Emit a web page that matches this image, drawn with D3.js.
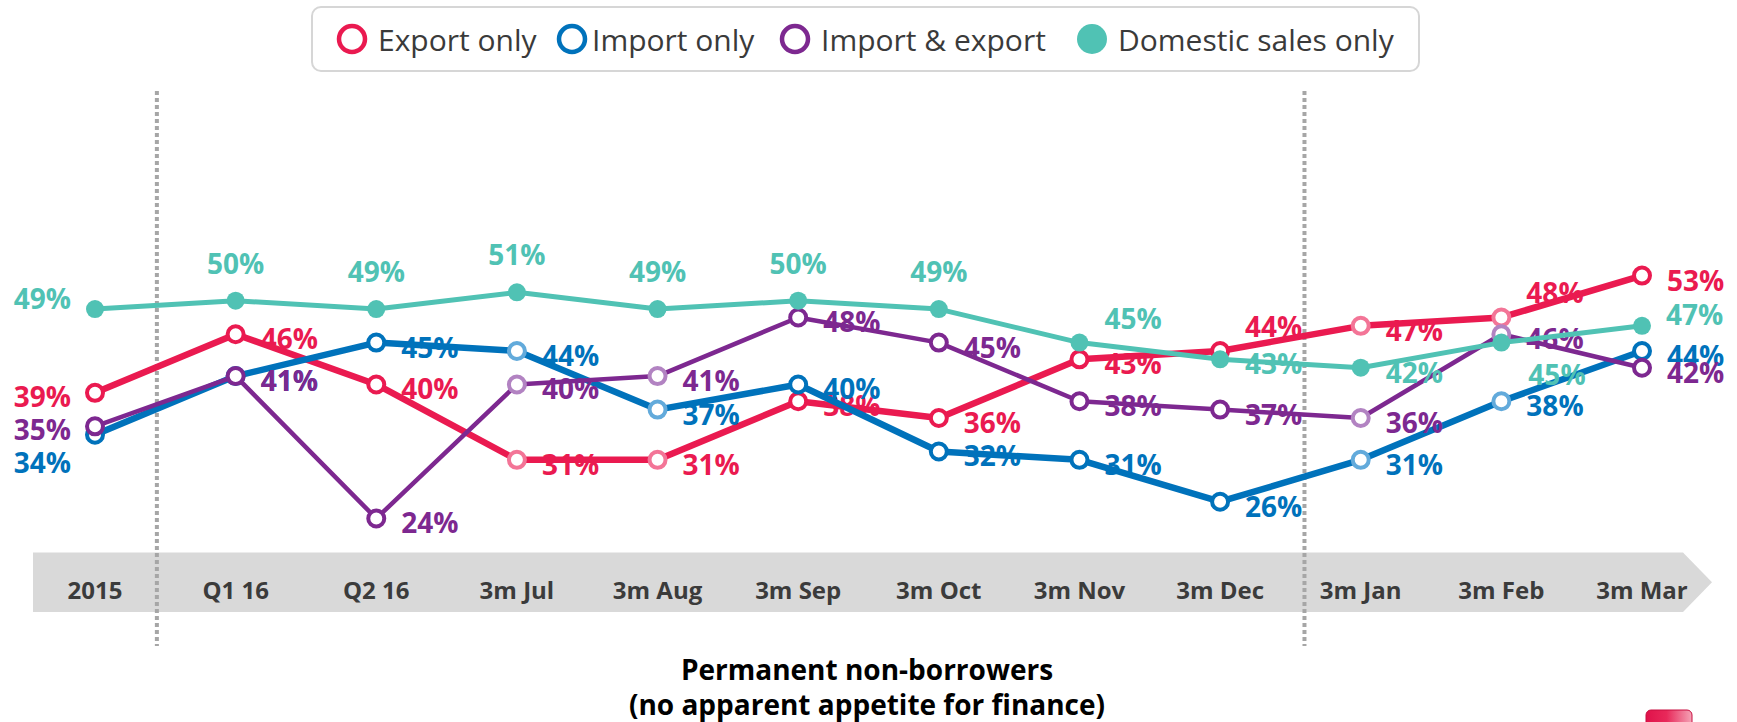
<!DOCTYPE html>
<html>
<head>
<meta charset="utf-8">
<script src="https://cdn.jsdelivr.net/npm/d3@7"></script>
<style>
  html, body { margin: 0; padding: 0; background: #fff; }
  svg { display: block; font-family: "Open Sans", "Noto Sans", sans-serif; }
</style>
</head>
<body>
<svg id="chart" width="1737" height="722"></svg>
<script>
// Permanent non-borrowers by trading type (line chart with % labels)

const categories = ["2015", "Q1 16", "Q2 16", "3m Jul", "3m Aug", "3m Sep", "3m Oct", "3m Nov", "3m Dec", "3m Jan", "3m Feb", "3m Mar"];
const exportOnly   = [39, 46, 40, 31, 31, 38, 36, 43, 44, 47, 48, 53];
const importOnly   = [34, 41, 45, 44, 37, 40, 32, 31, 26, 31, 38, 44];
const importExport = [35, 41, 24, 40, 41, 48, 45, 38, 37, 36, 46, 42];
const domesticOnly = [49, 50, 49, 51, 49, 50, 49, 45, 43, 42, 45, 47];
const seriesNames  = ["Export only", "Import only", "Import & export", "Domestic sales only"];
const fadedPeriods = ["3m Jul", "3m Aug", "3m Jan", "3m Feb"];
const titleLines   = ["Permanent non-borrowers", "(no apparent appetite for finance)"];

// label placement codes per point (style only)
const exportLabelPos   = ["l", "r", "r", "r", "r", "r", "r", "r", "tr", "r", "tr", "r"];
const importLabelPos   = ["lb", "r", "r", "r", "r", "r", "r", "r", "r", "r", "r", "r"];
const bothLabelPos     = ["l", "r", "r", "r", "r", "r", "r", "r", "r", "r", "r", "r"];
const domesticLabelPos = ["lt", "t", "t", "t", "t", "t", "t", "tr", "r", "r", "br", "ru"];

const offsets = {
  r:  [25, 4, "start"],
  l:  [-24, 3, "end"],
  lb: [-24, 27, "end"],
  lt: [-24, -11, "end"],
  t:  [0, -38, "middle"],
  tr: [25, -25, "start"],
  br: [27, 31, "start"],
  ru: [24, -12, "start"]
};

const series = [
  {name: seriesNames[0], values: exportOnly,   pos: exportLabelPos,   color: "#EA1A50", light: "#F37597", width: 6.5, hollow: true},
  {name: seriesNames[1], values: importOnly,   pos: importLabelPos,   color: "#0072BB", light: "#62AADB", width: 6.5, hollow: true},
  {name: seriesNames[2], values: importExport, pos: bothLabelPos,     color: "#7D2890", light: "#B283C2", width: 4.5, hollow: true},
  {name: seriesNames[3], values: domesticOnly, pos: domesticLabelPos, color: "#50C2B4", light: "#50C2B4", width: 5,   hollow: false}
];

const svg = d3.select("#chart");

const x = d3.scalePoint().domain(categories).range([95, 1642]);
const y = d3.scaleLinear().domain([0, 53]).range([719.5, 275.6]);
const step = x.step();

// grey arrow band holding the category labels
const bandTop = 552.5, bandBot = 612;
const bandL = x(categories[0]) - 62, bandR = x(categories[categories.length - 1]) + 41;
svg.append("path")
  .attr("d", `M${bandL},${bandTop} L${bandR},${bandTop} L${bandR + 29},${(bandTop + bandBot) / 2} L${bandR},${bandBot} L${bandL},${bandBot} Z`)
  .attr("fill", "#D9D9D9");

svg.append("g").selectAll("text")
  .data(categories)
  .join("text")
  .attr("x", d => x(d))
  .attr("y", 589)
  .attr("text-anchor", "middle")
  .attr("dominant-baseline", "central")
  .attr("font-size", "24px")
  .attr("font-weight", 700)
  .attr("fill", "#3B3B3B")
  .text(d => d);

// dotted separators
const separators = [x("2015") + step * 0.44, x("3m Dec") + step * 0.6];
svg.append("g").selectAll("line")
  .data(separators)
  .join("line")
  .attr("x1", d => d).attr("x2", d => d)
  .attr("y1", 91).attr("y2", 646)
  .attr("stroke", "#A6A6A6")
  .attr("stroke-width", 4)
  .attr("stroke-dasharray", "4 3");

// series: line, markers, labels (drawn in order)
const line = d3.line().x((d, i) => x(categories[i])).y(d => y(d));

series.forEach(s => {
  const g = svg.append("g");
  g.append("path")
    .attr("d", line(s.values))
    .attr("fill", "none")
    .attr("stroke", s.color)
    .attr("stroke-width", s.width)
    .attr("stroke-linejoin", "round");

  g.selectAll("circle")
    .data(s.values)
    .join("circle")
    .attr("cx", (d, i) => x(categories[i]))
    .attr("cy", d => y(d))
    .attr("r", s.hollow ? 8 : 9)
    .attr("fill", s.hollow ? "#fff" : s.color)
    .attr("stroke", (d, i) => s.hollow ? (fadedPeriods.includes(categories[i]) ? s.light : s.color) : "none")
    .attr("stroke-width", 4);

  g.selectAll("text")
    .data(s.values)
    .join("text")
    .attr("x", (d, i) => x(categories[i]) + offsets[s.pos[i]][0])
    .attr("y", (d, i) => y(d) + offsets[s.pos[i]][1])
    .attr("text-anchor", (d, i) => offsets[s.pos[i]][2])
    .attr("dominant-baseline", "central")
    .attr("font-size", "28px")
    .attr("font-weight", 700)
    .attr("fill", s.color)
    .text(d => d + "%");
});

// legend
const legend = svg.append("g");
legend.append("rect")
  .attr("x", 312).attr("y", 7)
  .attr("width", 1107).attr("height", 64)
  .attr("rx", 9)
  .attr("fill", "#fff")
  .attr("stroke", "#D6D6D6")
  .attr("stroke-width", 2);

const legendX = [352, 572, 795, 1092];
const li = legend.selectAll("g.item")
  .data(series)
  .join("g")
  .attr("class", "item")
  .attr("transform", (d, i) => `translate(${legendX[i]},39)`);
li.append("circle")
  .attr("r", d => d.hollow ? 13 : 15)
  .attr("fill", d => d.hollow ? "#fff" : d.color)
  .attr("stroke", d => d.hollow ? d.color : "none")
  .attr("stroke-width", 4.5);
li.append("text")
  .attr("x", (d, i) => i === 1 ? 20 : 26)
  .attr("dominant-baseline", "central")
  .attr("font-size", "30px")
  .attr("fill", "#3A3A3A")
  .text(d => d.name);

// title under the axis
svg.append("g").selectAll("text")
  .data(titleLines)
  .join("text")
  .attr("x", 867)
  .attr("y", (d, i) => 669 + i * 35)
  .attr("text-anchor", "middle")
  .attr("dominant-baseline", "central")
  .attr("font-size", "28px")
  .attr("font-weight", 700)
  .attr("fill", "#000")
  .text(d => d);

// small red tab at bottom right
const grad = svg.append("defs").append("linearGradient").attr("id", "tab").attr("x1", 0).attr("x2", 1);
grad.append("stop").attr("offset", 0).attr("stop-color", "#E0124A");
grad.append("stop").attr("offset", 0.45).attr("stop-color", "#E8295A");
grad.append("stop").attr("offset", 1).attr("stop-color", "#F4A3B6");
svg.append("rect")
  .attr("x", 1646).attr("y", 710)
  .attr("width", 46).attr("height", 24)
  .attr("rx", 5)
  .attr("fill", "url(#tab)")
  .attr("stroke", "#C80F40")
  .attr("stroke-width", 1);
</script>
</body>
</html>
